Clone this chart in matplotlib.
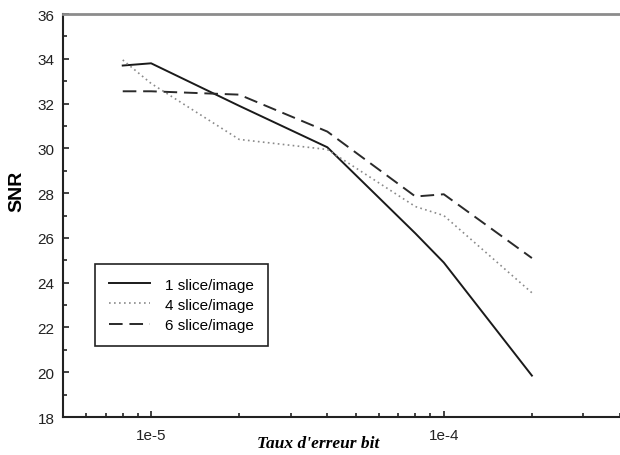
import numpy as np
import matplotlib.pyplot as plt
from matplotlib.ticker import FixedLocator, NullFormatter, FuncFormatter

# bit error rates used for the measurements
ber = [8e-6, 1e-5, 2e-5, 4e-5, 8e-5, 1e-4, 2e-4]

# SNR for each slicing configuration
snr_1 = [33.7, 33.8, 31.9, 30.05, 26.2, 24.9, 19.85]
snr_4 = [33.95, 32.9, 30.4, 29.95, 27.4, 27.0, 23.55]
snr_6 = [32.55, 32.55, 32.4, 30.75, 27.85, 27.95, 25.1]

labels = ['1 slice/image', '4 slice/image', '6 slice/image']

plt.rcParams['font.family'] = ['Liberation Sans', 'DejaVu Sans']

fig = plt.figure(figsize=(6.2, 4.56), dpi=100)
ax = fig.add_axes([0.1016, 0.0833, 0.8984, 0.8837])

ax.plot(ber, snr_1, color='#1a1a1a', lw=1.4, ls='-', label=labels[0])
ax.plot(ber, snr_4, color='#8a8a8a', lw=1.2, ls=(0, (1, 2)), label=labels[1])
ax.plot(ber, snr_6, color='#2a2a2a', lw=1.4, ls=(0, (7, 3.5)), label=labels[2])

ax.set_xscale('log')
ax.set_xlim(5e-6, 4e-4)
ax.set_ylim(18, 36)

ax.xaxis.set_major_locator(FixedLocator([1e-5, 1e-4]))
ax.xaxis.set_major_formatter(FuncFormatter(lambda v, p: '1e-%d' % round(-np.log10(v))))
minor_x = [m * 10.0 ** e for e in (-6, -5, -4) for m in range(2, 10)]
ax.xaxis.set_minor_locator(FixedLocator([v for v in minor_x if 5e-6 <= v <= 4e-4]))
ax.xaxis.set_minor_formatter(NullFormatter())

ax.yaxis.set_major_locator(FixedLocator(np.arange(18, 37, 2)))
ax.yaxis.set_minor_locator(FixedLocator(np.arange(19, 36, 2)))

ax.tick_params(which='both', direction='in', width=1.2, colors='#222222',
               labelsize=11)
ax.tick_params(axis='y', pad=6)
ax.tick_params(axis='x', pad=8)
ax.tick_params(which='major', length=4.5)
ax.tick_params(which='minor', length=3)

ax.spines['right'].set_visible(False)
ax.spines['top'].set_color('#8c8c8c')
ax.spines['top'].set_linewidth(2)
ax.spines['left'].set_linewidth(1.5)
ax.spines['bottom'].set_linewidth(1.5)
ax.spines['left'].set_color('#222222')
ax.spines['bottom'].set_color('#222222')

ax.set_ylabel('SNR', fontsize=14, fontweight='bold')
ax.yaxis.set_label_coords(-0.068, 0.563)
ax.set_xlabel("Taux d'erreur bit", fontsize=12.5, fontweight='bold',
              fontstyle='italic', family='Liberation Serif')
ax.xaxis.set_label_coords(0.458, -0.045)

leg = ax.legend(loc='upper left', bbox_to_anchor=(0.0575, 0.38), borderaxespad=0,
                fontsize=11, handlelength=2.7, labelspacing=0.4, fancybox=False,
                framealpha=1, edgecolor='#222222', borderpad=0.9, handletextpad=1.0)
leg.get_frame().set_linewidth(1.2)

fig.savefig('out.png', dpi=100)
